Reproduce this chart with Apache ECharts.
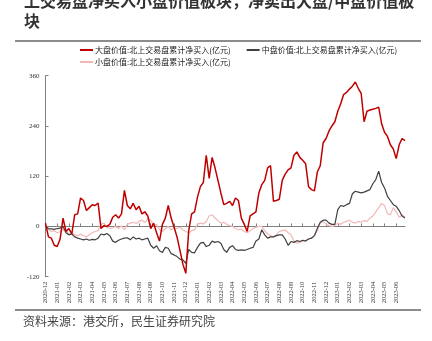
<!DOCTYPE html>
<html><head><meta charset="utf-8">
<script src="https://cdn.jsdelivr.net/npm/echarts@6/dist/echarts.min.js"></script>
<style>html,body{margin:0;padding:0;background:#fff;}#c{width:432px;height:341px;}</style>
</head><body><div id="c"></div>
<script>
const months = ['2020-12','2021-01','2021-02','2021-03','2021-04','2021-05','2021-06','2021-07','2021-08','2021-09','2021-10','2021-11','2021-12','2022-01','2022-02','2022-03','2022-04','2022-05','2022-06','2022-07','2022-08','2022-09','2022-10','2022-11','2022-12','2023-01','2023-02','2023-03','2023-04','2023-05','2023-06'];
const weekDays = ['01','08','16','23'];
const categories = [];
months.forEach(m => weekDays.forEach(d => categories.push(m + '-' + d)));

const largeValue = [8,-25,-28,-45,-48,-30,20,-12,-5,-18,28,30,68,62,38,45,52,50,56,-5,2,0,5,22,28,20,30,86,50,42,55,40,48,30,35,25,-5,8,-15,-35,5,20,50,20,-2,-25,-57,-90,-112,-10,30,35,70,95,105,170,115,165,140,110,80,52,55,60,50,68,62,20,5,-12,25,30,35,80,100,110,140,145,60,62,65,110,125,135,140,170,178,165,158,150,95,88,85,130,145,200,210,228,240,250,275,293,315,320,328,335,345,330,318,250,275,278,280,282,285,245,225,215,195,185,162,195,210,205];
const midValue = [0,-5,-6,-7,-5,-4,0,-15,-20,-18,-25,-28,-30,-32,-30,-33,-31,-32,-28,-18,-20,-17,-22,-35,-38,-33,-30,-28,-27,-32,-25,-30,-28,-32,-30,-28,-45,-52,-46,-58,-62,-50,-52,-65,-68,-72,-78,-80,-88,-55,-62,-63,-50,-40,-38,-48,-45,-35,-38,-36,-40,-55,-62,-50,-46,-55,-57,-56,-57,-55,-52,-50,-35,-30,-8,-20,-28,-25,-25,-22,-20,-20,-30,-45,-36,-38,-34,-36,-33,-35,-30,-28,-22,-5,10,15,15,8,5,5,40,50,48,52,55,78,84,82,80,82,85,88,102,112,132,105,92,72,62,52,48,38,25,20];
const smallValue = [0,-8,-12,-10,-15,-12,-8,-10,-18,-15,-20,-22,-18,-22,-25,-20,-15,-12,-10,5,8,-2,-5,-3,0,-5,2,-8,5,8,10,7,12,15,10,18,15,2,5,-8,-12,-5,0,-8,-3,-5,-2,-8,-12,-15,-10,-8,5,8,6,12,25,28,20,14,8,10,5,2,0,-5,-8,-6,-12,-15,-10,-5,-2,0,0,-10,-18,-22,-25,-20,-12,-10,-8,-15,-20,-35,-40,-38,-35,-33,-30,-28,-22,-10,8,12,5,2,0,2,8,5,10,12,15,10,8,12,10,14,12,20,25,35,45,55,50,30,28,45,35,22,28,22];
const yTicks = [-120, 0, 120, 240, 360];
const seriesNames = ['大盘价值:北上交易盘累计净买入(亿元)','中盘价值:北上交易盘累计净买入(亿元)','小盘价值:北上交易盘累计净买入(亿元)'];

const chart = echarts.init(document.getElementById('c'), null, {renderer:'canvas'});
const serif = '"Liberation Serif","DejaVu Serif",serif';
const cjk = '"Noto Sans CJK SC","Noto Sans",sans-serif';
chart.setOption({
  animation:false,
  backgroundColor:'#fff',
  graphic:[
    {type:'text', x:24, y:-9, style:{text:'上交易盘净买入小盘价值板块，净卖出大盘/中盘价值板\n块', font:'bold 16px ' + cjk, lineHeight:20, fill:'#333', textVerticalAlign:'top'}},
    {type:'line', shape:{x1:15,y1:41,x2:421,y2:41}, style:{stroke:'#666', lineWidth:1.5}},
    {type:'line', shape:{x1:15,y1:310,x2:421,y2:310}, style:{stroke:'#666', lineWidth:1.5}},
    {type:'text', x:23, y:321, style:{text:'资料来源：港交所，民生证券研究院', font:'12px ' + cjk, fill:'#444', textVerticalAlign:'middle'}}
  ],
  legend:[
    {data:[seriesNames[0], seriesNames[1]], left:80, top:46, itemWidth:13, itemHeight:2, itemGap:16, icon:'rect', padding:0,
     textStyle:{fontFamily:cjk, fontSize:8, color:'#222', padding:[0,0,0,-3]}},
    {data:[seriesNames[2]], left:80, top:58, itemWidth:13, itemHeight:2, itemGap:16, icon:'rect', padding:0,
     textStyle:{fontFamily:cjk, fontSize:8, color:'#222', padding:[0,0,0,-3]}}
  ],
  grid:{left:45.5, right:27, top:75.7, bottom:64.3, containLabel:false},
  xAxis:[
    {type:'category', data:categories, boundaryGap:false, position:'bottom',
     axisLine:{show:false, onZero:false}, axisTick:{show:false},
     axisLabel:{interval:(i)=> i % 4 === 0, rotate:90, margin:5, fontFamily:serif, fontSize:6.5, color:'#333', formatter:(v)=>v.slice(0,7)}},
    {type:'category', data:categories, boundaryGap:false, position:'top',
     axisLine:{show:true, onZero:true, lineStyle:{color:'#808080', width:1}},
     axisTick:{show:true, interval:(i)=> i % 4 === 0, length:3, lineStyle:{color:'#808080'}},
     axisLabel:{show:false}}
  ],
  yAxis:{type:'value', min:yTicks[0], max:yTicks[yTicks.length-1], interval:120, splitLine:{show:false},
    axisLine:{show:true, lineStyle:{color:'#808080'}}, axisTick:{show:true, inside:true, length:3, lineStyle:{color:'#808080'}},
    axisLabel:{fontFamily:serif, fontSize:7, color:'#333', margin:6}},
  series:[
    {name:seriesNames[0], type:'line', data:largeValue, xAxisIndex:0, showSymbol:false, lineStyle:{color:'#C00000', width:1.5}, itemStyle:{color:'#C00000'}, z:3},
    {name:seriesNames[1], type:'line', data:midValue, xAxisIndex:0, showSymbol:false, lineStyle:{color:'#404040', width:1.2}, itemStyle:{color:'#404040'}, z:2},
    {name:seriesNames[2], type:'line', data:smallValue, xAxisIndex:0, showSymbol:false, lineStyle:{color:'#F2B8B8', width:1.2}, itemStyle:{color:'#F2B8B8'}, z:1}
  ]
});
</script></body></html>
